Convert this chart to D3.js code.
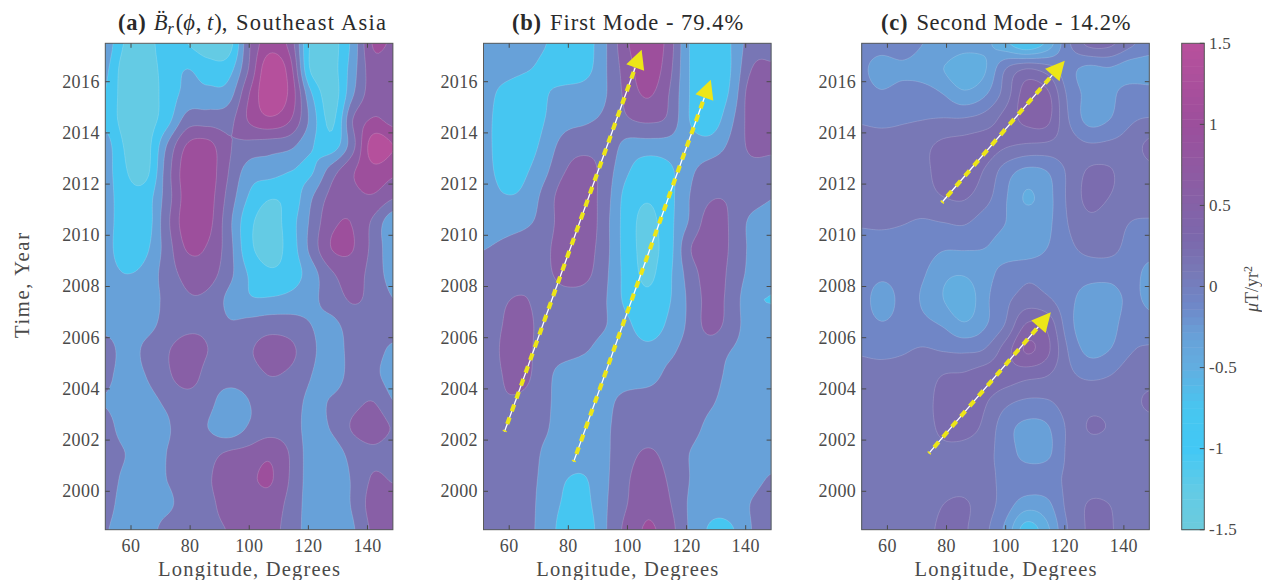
<!DOCTYPE html>
<html><head><meta charset="utf-8">
<script src="https://cdn.jsdelivr.net/npm/d3@7"></script>
<style>html,body{margin:0;padding:0;background:#fff}svg{display:block}text{font-family:"Liberation Serif",serif}</style>
</head><body><svg id="c" width="1262" height="580"></svg>
<script>
const lonColumns=[51,58,65,72,79,86,93,100,107,114,121,128,135,142,149];
const yearRows=[2017.5,2016.5,2015.5,2014.5,2013.5,2012.5,2011.5,2010.5,2009.5,2008.5,2007.5,2006.5,2005.5,2004.5,2003.5,2002.5,2001.5,2000.5,1999.5,1998.5];
const valuesA=[
[-.2,-1.1,-1.25,-.8,-1.05,-1.35,-1.3,.3,1.05,.6,-1.15,-1.25,-.4,.85,.7],
[-.4,-1.3,-1.3,-.85,-.55,-.8,-.75,.4,1.6,.95,-1.15,-1.25,-.3,.6,.37],
[-.55,-1.3,-1.35,-.85,-.4,-.4,-.3,.8,1.6,1.1,-.5,-1.3,-.15,.6,.6],
[-.65,-1.25,-1.3,-.75,.1,.15,.2,.85,1.15,.8,-.25,-1.15,.35,.85,.65],
[-.3,-1.1,-1.25,-.1,.85,.95,.4,.2,.1,0,-.5,-.8,.2,1.5,1.25],
[-.3,-1.0,-1.2,.1,1.05,1.05,.35,-.3,-.35,-.55,-.6,.15,.75,1.1,.9],
[-.3,-.85,-.8,.1,1,1,.2,-.6,-1,-.85,-.15,.5,.7,.75,.4],
[-.3,-.85,-.8,.2,1.05,.95,.05,-.9,-1.3,-.75,0,.7,.78,.25,-.45],
[-.25,-.95,-.65,.1,.85,.75,.1,-.9,-1.3,-.8,.05,.82,.82,.2,-.4],
[-.3,-.55,-.4,.1,.5,.55,.05,-.6,-.95,-.8,-.3,.3,.55,.15,-.3],
[-.35,-.35,-.3,0,.3,.25,-.2,-.5,-.5,-.4,-.2,.1,.4,.2,-.1],
[-.3,-.35,-.25,.05,.25,.25,-.05,.05,.15,.1,-.1,-.2,.1,.15,.1],
[.2,-.3,0,.3,.55,.35,.1,.3,.55,.45,0,-.3,.05,.05,-.2],
[.05,-.3,-.1,.25,.55,.2,.1,.15,.35,.25,-.1,-.3,.05,0,-.3],
[-.12,-.3,-.25,-.03,.15,.05,-.35,-.1,.1,.1,-.2,-.05,.2,.35,-.1],
[.1,-.3,-.3,-.15,.1,-.1,-.4,-.05,.15,.1,-.25,-.05,.4,.6,.3],
[.15,-.1,-.35,-.1,.1,.2,.4,.5,.7,.3,-.3,-.3,.05,.25,.1],
[.15,-.2,-.35,-.1,.15,.3,.6,.72,.85,.3,-.3,-.35,-.05,.4,.3],
[.1,-.3,-.35,-.2,.1,.25,.5,.55,.6,.2,-.3,-.35,-.05,.55,.55],
[-.05,-.35,-.3,.05,.15,.25,.37,.55,.5,.15,-.3,-.35,-.15,.45,.6]];
const valuesB=[
[-.2,-.3,-.4,-.53,-.8,-.75,-.1,.75,1.2,.6,-.55,-.85,-.55,.15,.25],
[-.25,-.35,-.5,-.65,-.9,-.7,-.1,.6,1.1,.5,-.55,-.95,-.55,.35,.4],
[-.3,-.7,-.85,-.6,-.35,-.3,-.1,.5,.85,.35,-.55,-.9,-.45,.6,.55],
[-.35,-.8,-.9,-.55,-.25,-.15,0,.3,.42,.25,-.55,-.8,-.2,.55,.6],
[-.35,-.8,-.8,-.4,.1,.2,.15,-.25,-.3,-.3,-.35,-.35,0,.45,.45],
[-.35,-.7,-.62,-.2,.35,.55,.1,-.5,-.85,-.65,-.2,.1,.15,.2,.15],
[-.3,-.52,-.45,.05,.6,.6,.05,-.75,-1,-.7,-.1,.3,.3,.1,-.08],
[-.35,-.3,-.2,.1,.6,.65,0,-.8,-1.2,-.7,-.05,.55,.3,-.2,-.3],
[-.12,0,.15,.25,.6,.55,0,-.8,-1.2,-.75,.3,.6,.3,-.2,-.35],
[.05,.1,.15,.25,.5,.45,-.05,-.75,-1.15,-.65,.1,.55,.25,-.25,-.45],
[.1,.3,.38,.15,.2,.15,-.1,-.7,-.95,-.6,0,.5,.2,-.45,-.56],
[.1,.36,.5,.15,.1,.05,-.1,-.45,-.85,-.45,0,.5,.15,-.35,-.45],
[.1,.4,.5,.1,.05,-.08,-.25,-.3,-.4,-.2,.05,.1,-.1,-.3,-.35],
[.05,.36,.45,.05,-.3,-.35,-.3,-.3,-.25,0,.1,.05,-.2,-.3,-.35],
[.05,.3,.25,0,-.3,-.35,-.2,.05,.1,.1,.1,-.05,-.25,-.3,-.35],
[.05,.15,.1,-.05,-.3,-.35,-.15,.1,.15,.15,.05,-.2,-.3,-.3,-.35],
[.05,.1,.1,-.15,-.3,-.35,-.15,.2,.4,.2,-.1,-.3,-.35,-.3,-.3],
[.05,.1,.05,-.2,-.53,-.56,-.15,.3,.6,.3,-.1,-.35,-.35,-.25,-.05],
[.05,.08,.05,-.25,-.62,-.65,-.12,.35,.7,.4,-.15,-.4,-.35,-.08,.15],
[.05,.05,0,-.25,-.78,-.8,-.1,.5,.85,.55,-.15,-.6,-.6,-.1,.2]];
const valuesC=[
[-.1,-.1,-.05,-.2,-.22,-.3,-.35,-.55,-.8,-.55,-.05,.25,.25,.05,-.1],
[-.15,-.3,-.25,-.3,-.4,-.55,-.42,0,.2,.1,-.12,-.25,-.22,-.3,-.3],
[-.1,-.17,-.1,-.1,-.2,-.35,-.22,.1,.5,.45,-.03,-.25,-.25,-.1,-.12],
[-.02,-.05,-.02,0,.02,.03,.1,.28,.45,.45,.02,-.25,-.2,-.03,.02],
[.1,.1,.1,.15,.25,.28,.3,.22,.17,.15,.1,.03,.05,.1,.25],
[.1,.1,.1,.15,.28,.3,.18,-.1,-.25,-.2,.03,.22,.22,.1,.15],
[.1,.1,.1,.12,.2,.22,.08,-.18,-.42,-.28,.03,.25,.2,.1,.1],
[.02,.03,.01,-.02,0,.02,-.1,-.2,-.3,-.25,0,.15,.1,0,-.02],
[-.07,-.08,-.08,-.1,-.18,-.18,-.2,-.25,-.3,-.2,-.05,.05,.05,-.05,-.1],
[-.1,-.15,-.13,-.18,-.35,-.38,-.25,-.15,-.05,-.07,-.1,-.12,-.12,-.1,-.28],
[-.1,-.3,-.15,-.22,-.4,-.55,-.25,-.05,.08,.03,-.13,-.3,-.32,-.15,-.25],
[-.1,-.18,-.13,-.15,-.22,-.37,-.22,.02,.42,.35,-.1,-.35,-.3,-.08,-.12],
[-.02,-.05,-.02,.02,-.01,-.03,.02,.3,.62,.45,0,-.25,-.2,-.02,.03],
[.07,.08,.08,.1,.21,.23,.3,.3,.25,.2,.05,-.03,0,.1,.1],
[.1,.1,.1,.12,.28,.3,.22,.05,-.03,-.02,.08,.13,.13,.13,.25],
[.1,.1,.1,.12,.25,.28,.15,-.12,-.25,-.22,.03,.21,.19,.1,.1],
[.1,.1,.1,.1,.15,.12,.05,-.08,-.28,-.25,.03,.1,.1,.1,.1],
[.1,.1,.1,.1,.12,.12,.06,-.05,-.08,-.07,.03,.1,.1,.1,.1],
[.1,.1,.1,.1,.2,.22,.1,-.1,-.3,-.25,.05,.21,.2,.1,.1],
[.1,.1,.1,.12,.25,.22,.05,-.25,-.7,-.45,0,.22,.22,.1,.1]];
const levelsAB=[-1.05,-.55,-.1,.35,.8,1.25];
const levelsC=[-.8,-.6,-.4,-.2,0,.2,.4,.6];
const titlesPlain=["Southeast Asia","First Mode - 79.4%","Second Mode - 14.2%"];
const panelTags=["(a)","(b)","(c)"];
const lonTicks=[60,80,100,120,140];
const yearTicks=[2000,2002,2004,2006,2008,2010,2012,2014,2016];
const barTicks=[1.5,1,.5,0,-.5,-1,-1.5];
const arrowsB=[{lon0:58.4,yr0:2002.33,lon1:104.8,yr1:2017.25},{lon0:81.8,yr0:2001.16,lon1:128.2,yr1:2016.08}];
const arrowsC=[{lon0:78.4,yr0:2011.28,lon1:120,yr1:2016.82},{lon0:74,yr0:2001.48,lon1:115.3,yr1:2006.99}];
const colorStops=[-1.5,-1.25,-1,-.75,-.5,-.3,-.1,.1,.3,.55,1,1.5];
const colorValues=["#6ccbdc","#62cbe6","#42c8f5","#47c6f0","#62aee0","#68a0d8","#7086c6","#7878b6","#7c68ac","#8760a6","#9c4f9c","#b8509c"];

const color=d3.scaleLinear().domain(colorStops).range(colorValues).interpolate(d3.interpolateRgb).clamp(true);
const svg=d3.select("#c");
const INK="#4a4a4a";
const panels=[
 {v:valuesA,l:levelsAB,x0:105.3,arrows:[],mid:[-1.3,-.8,-.32,.12,.57,1.02,1.45]},
 {v:valuesB,l:levelsAB,x0:483.5,arrows:arrowsB,mid:[-1.25,-.8,-.32,.12,.57,1.02,1.45]},
 {v:valuesC,l:levelsC,x0:861.7,arrows:arrowsC,mid:[-.95,-.7,-.5,-.3,-.1,.1,.25,.45,.6]}];
const W=287.6,yTop=43.3,yBottom=529.7,K=8;

function catmull(p0,p1,p2,p3,t){return .5*(2*p1+(p2-p0)*t+(2*p0-5*p1+4*p2-p3)*t*t+(3*p1-p0-3*p2+p3)*t*t*t);}
function refine(g){
  const R=g.length,C=g[0].length,w=(C-1)*K+1,h=(R-1)*K+1,out=new Float64Array(w*h);
  const at=(r,c)=>g[Math.max(0,Math.min(R-1,r))][Math.max(0,Math.min(C-1,c))];
  for(let j=0;j<h;j++){const r=Math.min(R-2,Math.floor(j/K)),tr=j/K-r;
    for(let i=0;i<w;i++){const c=Math.min(C-2,Math.floor(i/K)),tc=i/K-c;
      const col=[-1,0,1,2].map(d=>catmull(at(r+d,c-1),at(r+d,c),at(r+d,c+1),at(r+d,c+2),tc));
      out[j*w+i]=catmull(col[0],col[1],col[2],col[3],tr);}}
  return {w,h,out};
}
panels.forEach((p,idx)=>{
  const x=d3.scaleLinear().domain([51.3,148.6]).range([p.x0,p.x0+W]);
  const y=d3.scaleLinear().domain([1998.5,2017.5]).range([yBottom,yTop]);
  const g=svg.append("g");
  const id="clip"+idx;
  svg.append("clipPath").attr("id",id).append("rect").attr("x",p.x0).attr("y",yTop).attr("width",W).attr("height",yBottom-yTop);
  const pl=g.append("g").attr("clip-path",`url(#${id})`);
  const {w,h,out}=refine(p.v);
  const lonAt=d3.scaleLinear().domain([.5,w-.5]).range([lonColumns[0],lonColumns[lonColumns.length-1]]);
  const yrAt=d3.scaleLinear().domain([.5,h-.5]).range([yearRows[0],yearRows[yearRows.length-1]]);
  const path=d3.geoPath(d3.geoTransform({point(a,b){this.stream.point(x(lonAt(a)),y(yrAt(b)));}}));
  pl.append("rect").attr("x",p.x0).attr("y",yTop).attr("width",W).attr("height",yBottom-yTop).attr("fill",color(p.mid[0]));
  const cs=d3.contours().size([w,h]).thresholds(p.l)(out);
  pl.selectAll("path").data(cs).join("path").attr("d",path)
    .attr("fill",(d,i)=>color(p.mid[i+1])).attr("stroke","rgba(255,255,255,.24)").attr("stroke-width",.7);
  p.arrows.forEach(a=>{
    const X0=x(a.lon0),Y0=y(a.yr0),X1=x(a.lon1),Y1=y(a.yr1);
    const L=Math.hypot(X1-X0,Y1-Y0),ux=(X1-X0)/L,uy=(Y1-Y0)/L,HL=19,HW=9.5;
    const hx=X1-ux*HL,hy=Y1-uy*HL;
    pl.append("line").attr("x1",X0).attr("y1",Y0).attr("x2",hx).attr("y2",hy).attr("stroke","#fff").attr("stroke-width",1.3);
    pl.append("line").attr("x1",X0).attr("y1",Y0).attr("x2",hx).attr("y2",hy).attr("stroke","#ece618").attr("stroke-width",4.2).attr("stroke-dasharray","7 6.6").attr("stroke-dashoffset",5.5);
    pl.append("polygon").attr("points",[[X1,Y1],[hx-uy*HW,hy+ux*HW],[hx+uy*HW,hy-ux*HW]].map(q=>q.join(",")).join(" ")).attr("fill","#ece618");
  });
  g.append("rect").attr("x",p.x0).attr("y",yTop).attr("width",W).attr("height",yBottom-yTop).attr("fill","none").attr("stroke","#5a5a5a").attr("stroke-width",1);
  lonTicks.forEach(t=>{
    g.append("line").attr("x1",x(t)).attr("x2",x(t)).attr("y1",yTop).attr("y2",yTop+4.5).attr("stroke",INK);
    g.append("line").attr("x1",x(t)).attr("x2",x(t)).attr("y1",yBottom).attr("y2",yBottom-4.5).attr("stroke",INK);
    g.append("text").attr("x",x(t)).attr("y",552).attr("text-anchor","middle").attr("font-size",18).attr("letter-spacing",.4).attr("fill",INK).text(t);
  });
  yearTicks.forEach(t=>{
    g.append("line").attr("x1",p.x0).attr("x2",p.x0+4.5).attr("y1",y(t)).attr("y2",y(t)).attr("stroke",INK);
    g.append("line").attr("x1",p.x0+W).attr("x2",p.x0+W-4.5).attr("y1",y(t)).attr("y2",y(t)).attr("stroke",INK);
    g.append("text").attr("x",p.x0-5.5).attr("y",y(t)+5.8).attr("text-anchor","end").attr("font-size",18).attr("letter-spacing",.4).attr("fill",INK).text(t);
  });
  g.append("text").attr("x",p.x0+W/2).attr("y",576).attr("text-anchor","middle").attr("font-size",20.5).attr("textLength",182).attr("fill",INK).text("Longitude, Degrees");
  const t=g.append("text").attr("y",30).attr("font-size",22.5).attr("fill","#2a2a2a");
  if(idx===0){
    t.attr("x",118);
    t.append("tspan").attr("font-weight","bold").attr("letter-spacing",.8).text(panelTags[0]);
    t.append("tspan").attr("dx",7).attr("font-style","italic").text("B\u0308");
    t.append("tspan").attr("dy",4).attr("font-size",16).attr("font-style","italic").text("r");
    t.append("tspan").attr("dy",-4).attr("dx",2).text("(");
    t.append("tspan").attr("font-style","italic").text("\u03d5");
    t.append("tspan").attr("dx",1).text(", ");
    t.append("tspan").attr("font-style","italic").text("t");
    t.append("tspan").attr("dx",1).text("), ");
    t.append("tspan").attr("dx",3).attr("letter-spacing",1.3).text(titlesPlain[0]);
  } else {
    t.attr("x",idx===1?512:881);
    t.append("tspan").attr("font-weight","bold").attr("letter-spacing",.8).text(panelTags[idx]);
    t.append("tspan").attr("dx",8).attr("letter-spacing",idx===1?1.0:.72).text(titlesPlain[idx]);
  }
});
svg.append("text").attr("transform","translate(29,285.5) rotate(-90)").attr("text-anchor","middle").attr("font-size",20.5).attr("textLength",105).attr("fill",INK).text("Time, Year");
const bx0=1181.7,bw=22.6;
const by=d3.scaleLinear().domain([-1.5,1.5]).range([yBottom,yTop]);
const steps=d3.range(64).map(i=>-1.5+3*i/64);
svg.append("g").selectAll("rect").data(steps).join("rect").attr("x",bx0).attr("width",bw)
  .attr("y",d=>by(d+3/64)).attr("height",d=>by(d)-by(d+3/64)+.5).attr("fill",d=>color(d+1.5/64));
svg.append("rect").attr("x",bx0).attr("y",yTop).attr("width",bw).attr("height",yBottom-yTop).attr("fill","none").attr("stroke","#555").attr("stroke-width",1);
barTicks.forEach(t=>{
  svg.append("line").attr("x1",bx0+bw).attr("x2",bx0+bw-4.5).attr("y1",by(t)).attr("y2",by(t)).attr("stroke",INK);
  svg.append("text").attr("x",1209).attr("y",by(t)+5.2).attr("font-size",17).attr("letter-spacing",.3).attr("fill",INK).text(t);
});
const u=svg.append("text").attr("transform","translate(1258,289) rotate(-90)").attr("text-anchor","middle").attr("font-size",18).attr("fill",INK);
u.append("tspan").attr("font-style","italic").text("\u03bc");
u.append("tspan").text("T/yr");
u.append("tspan").attr("dy",-6).attr("font-size",12).text("2");
</script></body></html>
